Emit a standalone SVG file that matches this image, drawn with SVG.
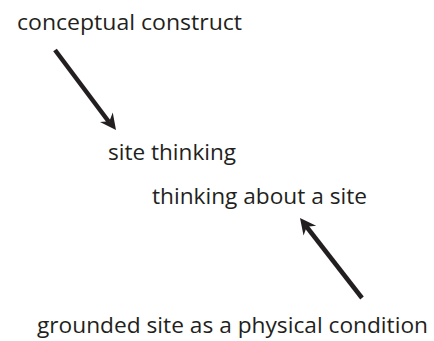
<svg xmlns="http://www.w3.org/2000/svg" width="434" height="341" viewBox="0 0 434 341">
<style>
text{font-family:"Open Sans","Noto Sans",sans-serif;font-size:21.5px;fill:#231f20}
.c{stroke:#231f20;stroke-width:4.5;fill:none}
.h{fill:#231f20;stroke:none}
</style>
<rect width="434" height="341" fill="#fff"/>
<g id="n1"><text x="17" y="30" textLength="225" lengthAdjust="spacingAndGlyphs">conceptual construct</text></g>
<g id="n2"><text x="108" y="160" textLength="128" lengthAdjust="spacingAndGlyphs">site thinking</text></g>
<g id="n3"><text x="152" y="204" textLength="215" lengthAdjust="spacingAndGlyphs">thinking about a site</text></g>
<g id="n4"><text x="37" y="333" textLength="391" lengthAdjust="spacingAndGlyphs">grounded site as a physical condition</text></g>
<g id="connectors">
<line class="c" x1="55" y1="50" x2="109" y2="122"/>
<path class="h" d="M0,0 L-16,-8 L-11,0 L-16,8 Z" transform="translate(116,130) rotate(53)"/>
<line class="c" x1="362" y1="298" x2="306" y2="226"/>
<path class="h" d="M0,0 L-16,-8 L-11,0 L-16,8 Z" transform="translate(300,218) rotate(232)"/>
</g>
</svg>
